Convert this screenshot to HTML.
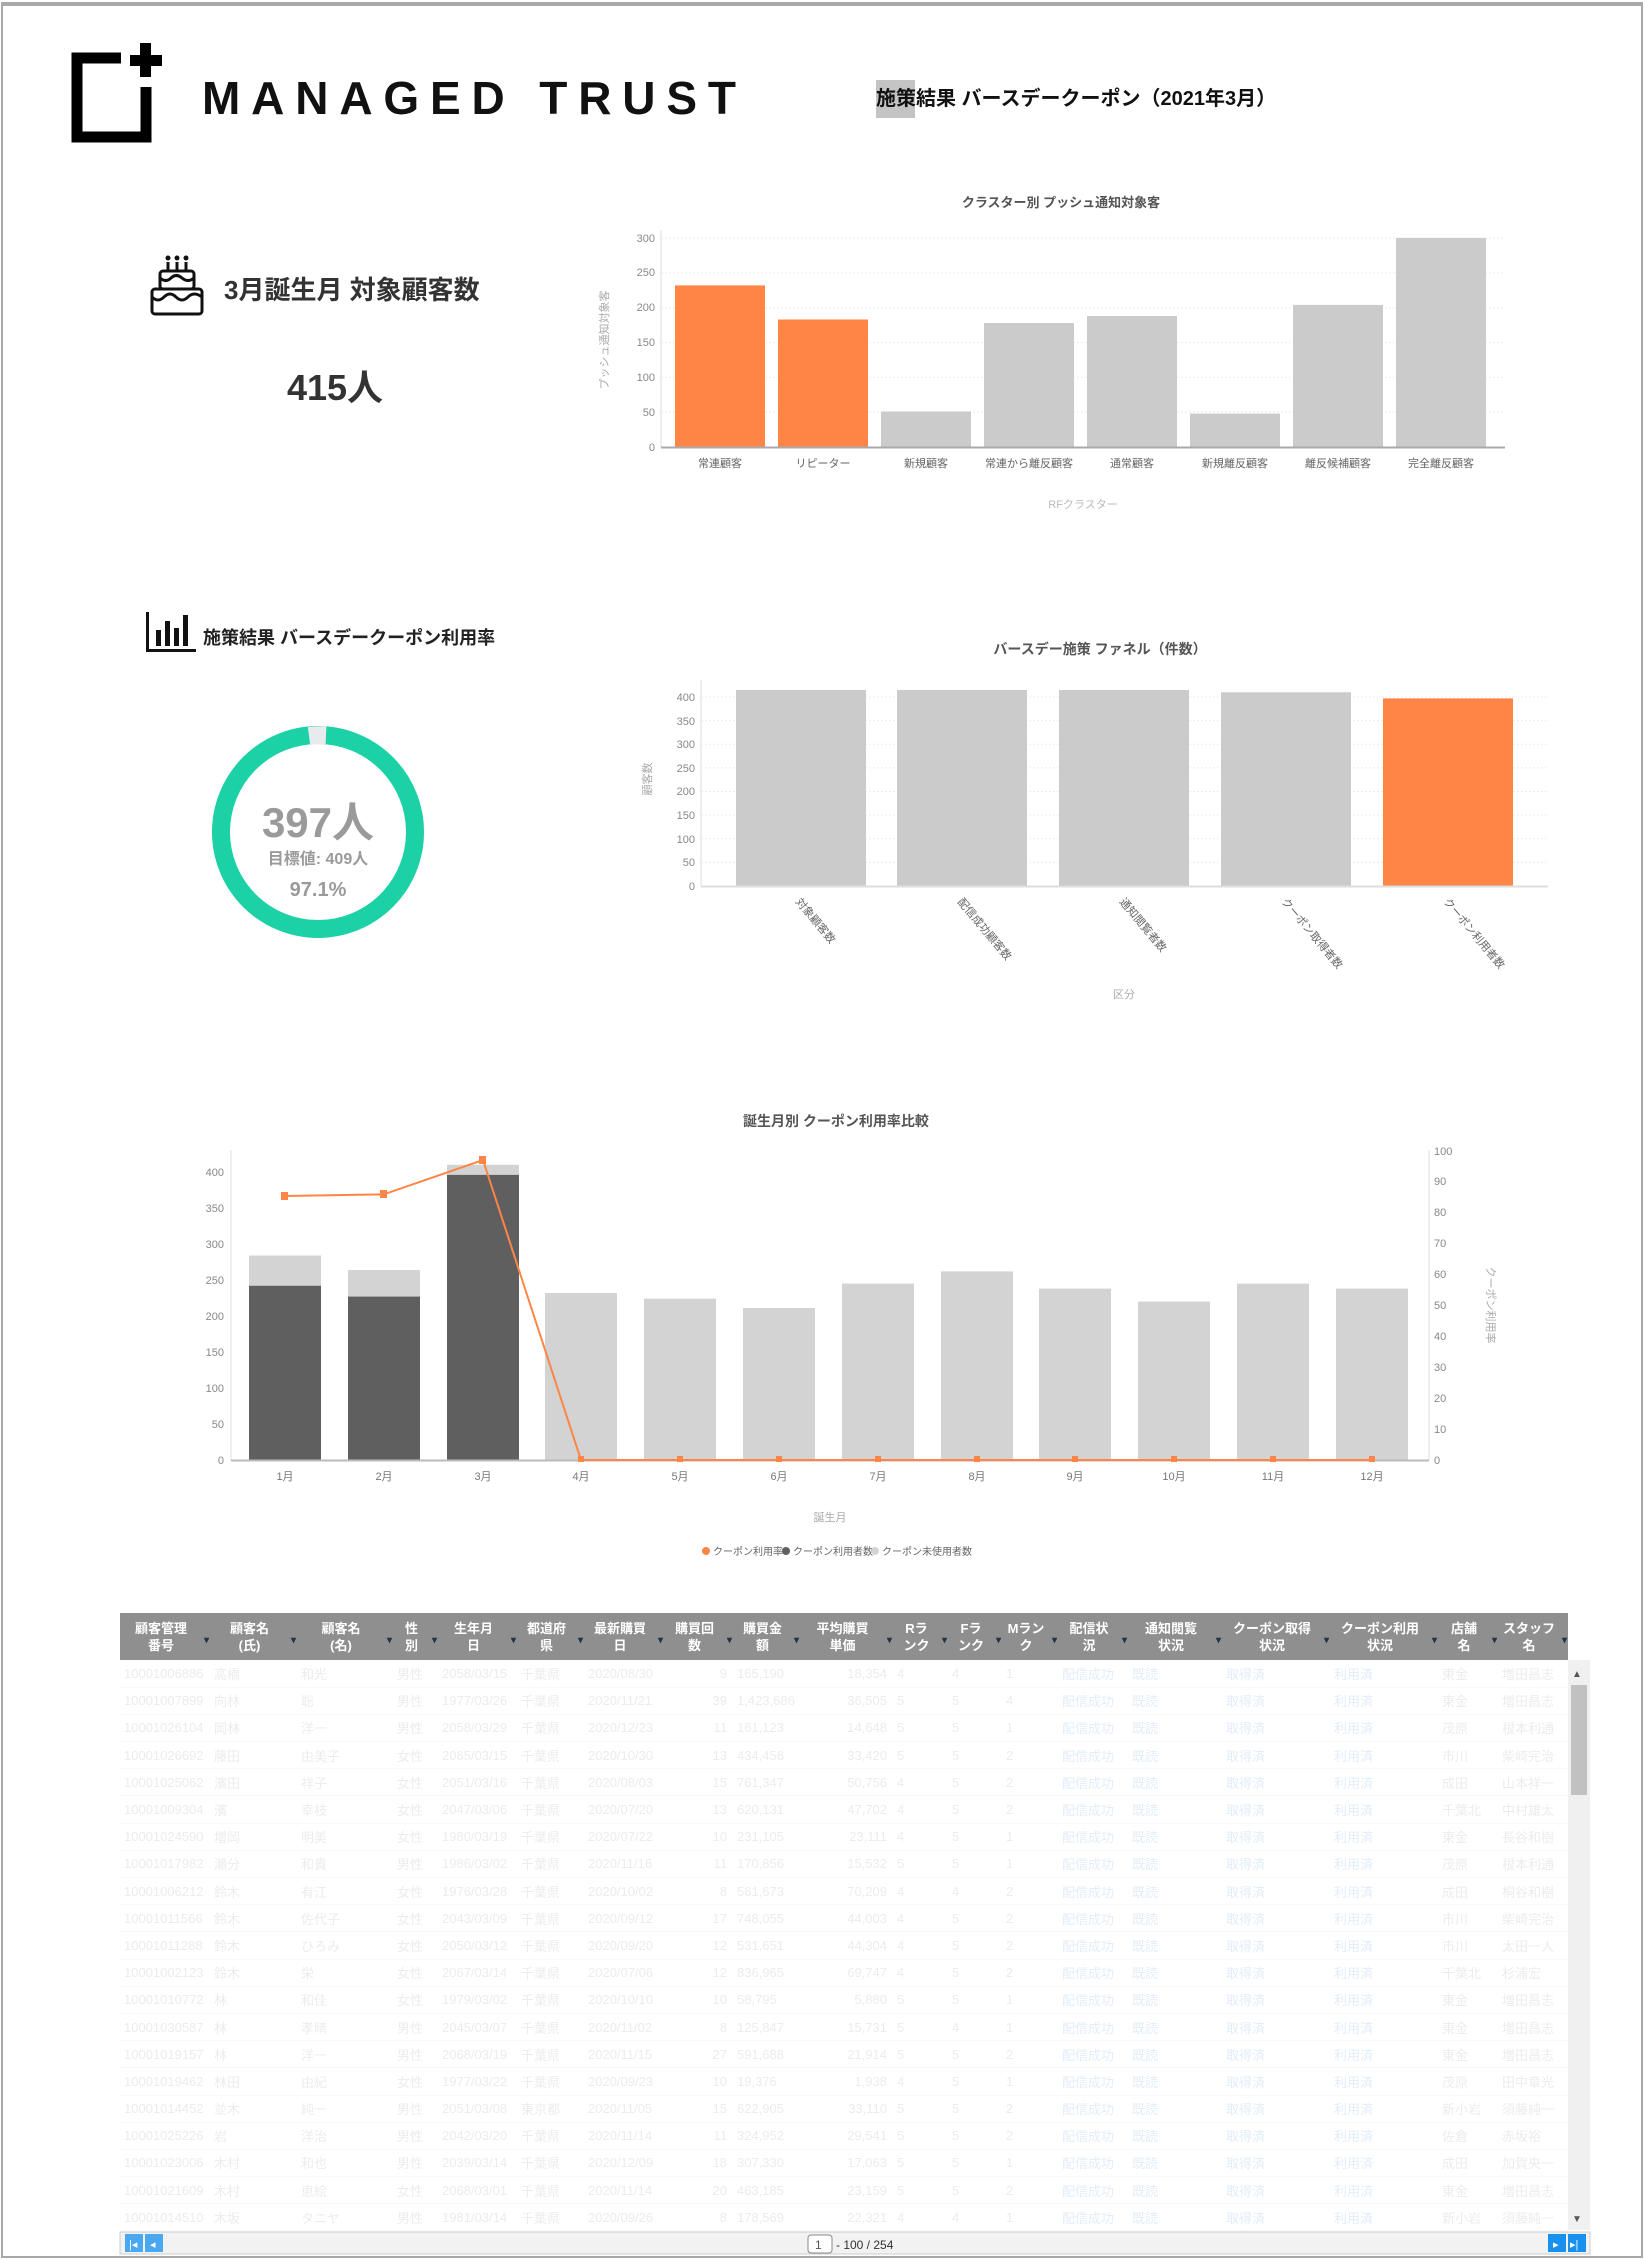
<!DOCTYPE html>
<html><head><meta charset="utf-8">
<style>
*{margin:0;padding:0;box-sizing:border-box}
body{width:1645px;height:2259px;background:#fff;position:relative;overflow:hidden;font-family:"Liberation Sans","Noto Sans CJK JP",sans-serif}
#frame{position:absolute;left:1px;top:2px;width:1642px;height:2256px;border:2px solid #a8a8a8;border-top:4px solid #a8a8a8}
svg{position:absolute;left:0;top:0}
#tbl{position:absolute;left:120px;top:1613px;width:1448px}
table{border-collapse:collapse;table-layout:fixed;width:1448px}
th{background:#8f8f8f;color:#fff;font-size:13px;font-weight:bold;height:47px;line-height:17px;text-align:center;position:relative;padding-right:8px}
th::after{content:"▾";position:absolute;right:1px;top:19px;color:#234;font-size:10px}
td{font-size:13px;color:#ececec;height:27.2px;border-bottom:1px solid #f8f8f8;white-space:nowrap;overflow:hidden;padding-left:4px}
td.b{color:#e2edf9}
td.r{text-align:right;padding-right:6px}
</style></head><body>
<div id="frame"></div>
<svg width="1645" height="2259" viewBox="0 0 1645 2259" font-family="Liberation Sans, Noto Sans CJK JP, sans-serif">
<!-- logo -->
<path d="M121 58 H77 V137 H146 V87" fill="none" stroke="#000" stroke-width="11"/>
<rect x="130" y="55" width="32" height="11" fill="#000"/><rect x="140" y="43" width="11" height="34" fill="#000"/>
<text x="202" y="114" font-size="46" font-weight="bold" textLength="534" lengthAdjust="spacing" fill="#111">MANAGED TRUST</text>
<rect x="876" y="80" width="39" height="38" fill="#c4c4c4"/>
<text x="876" y="105" font-size="20" font-weight="bold" fill="#111">施策結果 バースデークーポン（2021年3月）</text>
<!-- cake -->
<g fill="none" stroke="#111" stroke-width="3">
<rect x="152" y="289" width="50" height="25" rx="3"/><rect x="160" y="271" width="34" height="18" rx="3"/>
<path d="M152 297 q6 6 12 0 t12 0 t12 0 t14 0"/><path d="M160 278 q6 5 11 0 t11 0 t12 0"/>
<path d="M168 271v-9M177 271v-9M186 271v-9"/></g>
<g fill="#111"><circle cx="168" cy="258" r="2.5"/><circle cx="177" cy="258" r="2.5"/><circle cx="186" cy="258" r="2.5"/></g>
<text x="224" y="299" font-size="26" font-weight="bold" fill="#333">3月誕生月 対象顧客数</text>
<text x="335" y="400" font-size="36" font-weight="bold" fill="#333" text-anchor="middle">415人</text>
<!-- chart1 -->
<text x="1061" y="207" font-size="13" font-weight="bold" fill="#555" text-anchor="middle">クラスター別 プッシュ通知対象客</text>
<g stroke="#eee" stroke-dasharray="2,2"><path d="M661 412.2H1505M661 377.3H1505M661 342.5H1505M661 307.7H1505M661 272.8H1505M661 238H1505"/></g>
<g fill="#888" font-size="11" text-anchor="end"><text x="655" y="451">0</text><text x="655" y="416">50</text><text x="655" y="381">100</text><text x="655" y="346">150</text><text x="655" y="311">200</text><text x="655" y="276">250</text><text x="655" y="242">300</text></g>
<path d="M661 230V447" stroke="#ddd"/>
<rect x="675" y="285.4" width="90" height="161.6" fill="#ff8547"/>
<rect x="778" y="319.5" width="90" height="127.5" fill="#ff8547"/>
<rect x="881" y="411.5" width="90" height="35.5" fill="#cbcbcb"/>
<rect x="984" y="323" width="90" height="124" fill="#cbcbcb"/>
<rect x="1087" y="316" width="90" height="131" fill="#cbcbcb"/>
<rect x="1190" y="413.6" width="90" height="33.4" fill="#cbcbcb"/>
<rect x="1293" y="304.9" width="90" height="142.1" fill="#cbcbcb"/>
<rect x="1396" y="238" width="90" height="209" fill="#cbcbcb"/>
<path d="M661 447.5H1505" stroke="#aaa" stroke-width="2"/>
<g fill="#666" font-size="11" text-anchor="middle"><text x="720" y="467">常連顧客</text><text x="823" y="467">リピーター</text><text x="926" y="467">新規顧客</text><text x="1029" y="467">常連から離反顧客</text><text x="1132" y="467">通常顧客</text><text x="1235" y="467">新規離反顧客</text><text x="1338" y="467">離反候補顧客</text><text x="1441" y="467">完全離反顧客</text></g>
<text x="1083" y="508" font-size="11" fill="#bbb" text-anchor="middle">RFクラスター</text>
<text transform="translate(608,340) rotate(-90)" font-size="11" fill="#aaa" text-anchor="middle">プッシュ通知対象客</text>
<!-- section2 -->
<g fill="#111"><rect x="146" y="612" width="3" height="40"/><rect x="146" y="649" width="50" height="3"/><rect x="156" y="630" width="5" height="16"/><rect x="165" y="621" width="5" height="25"/><rect x="174" y="628" width="5" height="18"/><rect x="183" y="615" width="5" height="31"/></g>
<text x="203" y="644" font-size="18" font-weight="bold" fill="#222">施策結果 バースデークーポン利用率</text>
<circle cx="318" cy="832" r="97" fill="none" stroke="#1dd1a6" stroke-width="18"/>
<path d="M309 736 A97 97 0 0 1 326 735.3" fill="none" stroke="#e9eaee" stroke-width="18"/>
<text x="318" y="837" font-size="42" font-weight="bold" fill="#9a9a9a" text-anchor="middle">397人</text>
<text x="318" y="864" font-size="16" font-weight="bold" fill="#9a9a9a" text-anchor="middle">目標値: 409人</text>
<text x="318" y="896" font-size="20" font-weight="bold" fill="#9a9a9a" text-anchor="middle">97.1%</text>
<!-- chart2 -->
<text x="1100" y="654" font-size="14" font-weight="bold" fill="#555" text-anchor="middle">バースデー施策 ファネル（件数）</text>
<g stroke="#eee" stroke-dasharray="2,2"><path d="M701 862.4H1548M701 838.75H1548M701 815.1H1548M701 791.5H1548M701 767.9H1548M701 744.25H1548M701 720.6H1548M701 697H1548"/></g>
<g fill="#888" font-size="11" text-anchor="end"><text x="695" y="890">0</text><text x="695" y="866">50</text><text x="695" y="843">100</text><text x="695" y="819">150</text><text x="695" y="795">200</text><text x="695" y="772">250</text><text x="695" y="748">300</text><text x="695" y="725">350</text><text x="695" y="701">400</text></g>
<path d="M701 680V886" stroke="#ddd"/>
<rect x="736" y="690" width="130" height="196" fill="#cbcbcb"/>
<rect x="897" y="690" width="130" height="196" fill="#cbcbcb"/>
<rect x="1059" y="690" width="130" height="196" fill="#cbcbcb"/>
<rect x="1221" y="692.3" width="130" height="193.7" fill="#cbcbcb"/>
<rect x="1383" y="698.4" width="130" height="187.6" fill="#ff8547"/>
<path d="M701 886.5H1548" stroke="#ddd" stroke-width="2"/>
<g fill="#666" font-size="11"><text transform="translate(795,902) rotate(50)">対象顧客数</text><text transform="translate(957,902) rotate(50)">配信成功顧客数</text><text transform="translate(1119,902) rotate(50)">通知閲覧者数</text><text transform="translate(1281,902) rotate(50)">クーポン取得者数</text><text transform="translate(1443,902) rotate(50)">クーポン利用者数</text></g>
<text x="1124" y="998" font-size="11" fill="#aaa" text-anchor="middle">区分</text>
<text transform="translate(651,779) rotate(-90)" font-size="11" fill="#aaa" text-anchor="middle">顧客数</text>
<!-- chart3 -->
<text x="836" y="1126" font-size="14" font-weight="bold" fill="#555" text-anchor="middle">誕生月別 クーポン利用率比較</text>
<path d="M231 1150V1460M1429 1150V1460" stroke="#ddd"/>
<g fill="#888" font-size="11" text-anchor="end"><text x="224" y="1464">0</text><text x="224" y="1428">50</text><text x="224" y="1392">100</text><text x="224" y="1356">150</text><text x="224" y="1320">200</text><text x="224" y="1284">250</text><text x="224" y="1248">300</text><text x="224" y="1212">350</text><text x="224" y="1176">400</text></g>
<g fill="#888" font-size="11"><text x="1434" y="1464">0</text><text x="1434" y="1433">10</text><text x="1434" y="1402">20</text><text x="1434" y="1371">30</text><text x="1434" y="1340">40</text><text x="1434" y="1309">50</text><text x="1434" y="1278">60</text><text x="1434" y="1247">70</text><text x="1434" y="1216">80</text><text x="1434" y="1185">90</text><text x="1434" y="1155">100</text></g>
<g fill="#d3d3d3">
<rect x="249" y="1255.5" width="72" height="204.5"/><rect x="348" y="1270" width="72" height="190"/><rect x="447" y="1164.8" width="72" height="295.2"/>
<rect x="545" y="1293" width="72" height="167"/><rect x="644" y="1298.7" width="72" height="161.3"/><rect x="743" y="1308" width="72" height="152"/>
<rect x="842" y="1283.6" width="72" height="176.4"/><rect x="941" y="1271.4" width="72" height="188.6"/><rect x="1039" y="1288.6" width="72" height="171.4"/>
<rect x="1138" y="1301.6" width="72" height="158.4"/><rect x="1237" y="1283.6" width="72" height="176.4"/><rect x="1336" y="1288.6" width="72" height="171.4"/></g>
<g fill="#5f5f60"><rect x="249" y="1285.8" width="72" height="174.2"/><rect x="348" y="1296.6" width="72" height="163.4"/><rect x="447" y="1174.9" width="72" height="285.1"/></g>
<path d="M231 1460.5H1429" stroke="#bbb" stroke-width="2"/>
<polyline points="285,1196 384,1194.3 483,1160 581,1460 680,1460 779,1460 878,1460 977,1460 1075,1460 1174,1460 1273,1460 1372,1460" fill="none" stroke="#ff8547" stroke-width="2"/>
<g fill="#ff8547"><rect x="281" y="1192" width="7" height="8"/><rect x="380" y="1190" width="7" height="8"/><rect x="479" y="1156" width="7" height="8"/><rect x="578" y="1456" width="6" height="6"/><rect x="677" y="1456" width="6" height="6"/><rect x="776" y="1456" width="6" height="6"/><rect x="875" y="1456" width="6" height="6"/><rect x="974" y="1456" width="6" height="6"/><rect x="1072" y="1456" width="6" height="6"/><rect x="1171" y="1456" width="6" height="6"/><rect x="1270" y="1456" width="6" height="6"/><rect x="1369" y="1456" width="6" height="6"/></g>
<g fill="#777" font-size="11" text-anchor="middle"><text x="285" y="1480">1月</text><text x="384" y="1480">2月</text><text x="483" y="1480">3月</text><text x="581" y="1480">4月</text><text x="680" y="1480">5月</text><text x="779" y="1480">6月</text><text x="878" y="1480">7月</text><text x="977" y="1480">8月</text><text x="1075" y="1480">9月</text><text x="1174" y="1480">10月</text><text x="1273" y="1480">11月</text><text x="1372" y="1480">12月</text></g>
<text x="830" y="1521" font-size="11" fill="#aaa" text-anchor="middle">誕生月</text>
<text transform="translate(1487,1305) rotate(90)" font-size="11" fill="#aaa" text-anchor="middle">クーポン利用率</text>
<g font-size="10" fill="#666"><circle cx="706" cy="1551" r="4" fill="#ff8547"/><text x="713" y="1555">クーポン利用率</text><circle cx="786" cy="1551" r="4" fill="#5f5f60"/><text x="793" y="1555">クーポン利用者数</text><circle cx="875" cy="1551" r="4" fill="#d3d3d3"/><text x="882" y="1555">クーポン未使用者数</text></g>
<!-- scrollbar & footer -->
<rect x="1568" y="1660" width="22" height="570" fill="#f0f0f0"/>
<rect x="1571" y="1685" width="16" height="110" fill="#c1c1c1"/>
<text x="1572" y="1677" font-size="10" fill="#555">▲</text><text x="1572" y="2222" font-size="10" fill="#555">▼</text>
<rect x="120" y="2232" width="1470" height="22" fill="#f2f2f2" stroke="#ccc"/>
<rect x="125" y="2234" width="18" height="18" fill="#4aa8f0"/><rect x="145" y="2234" width="18" height="18" fill="#4aa8f0"/>
<rect x="1548" y="2234" width="18" height="18" fill="#1890ee"/><rect x="1568" y="2234" width="18" height="18" fill="#1890ee"/>
<g fill="#fff" font-size="11"><text x="129" y="2248">|◂</text><text x="150" y="2248">◂</text><text x="1553" y="2248">▸</text><text x="1570" y="2248">▸|</text></g>
<rect x="808" y="2235" width="24" height="18" rx="3" fill="#fff" stroke="#888"/>
<text x="815" y="2249" font-size="12" fill="#555">1</text>
<text x="836" y="2249" font-size="12" fill="#333">- 100 / 254</text>
</svg>
<div id="tbl"><table>
<colgroup><col style="width:90px"><col style="width:87px"><col style="width:96px"><col style="width:45px"><col style="width:79px"><col style="width:67px"><col style="width:80px"><col style="width:69px"><col style="width:67px"><col style="width:93px"><col style="width:55px"><col style="width:54px"><col style="width:56px"><col style="width:70px"><col style="width:94px"><col style="width:108px"><col style="width:108px"><col style="width:60px"><col style="width:70px"></colgroup>
<tr><th>顧客管理<br>番号</th><th>顧客名<br>(氏)</th><th>顧客名<br>(名)</th><th>性<br>別</th><th>生年月<br>日</th><th>都道府<br>県</th><th>最新購買<br>日</th><th>購買回<br>数</th><th>購買金<br>額</th><th>平均購買<br>単価</th><th>Rラ<br>ンク</th><th>Fラ<br>ンク</th><th>Mラン<br>ク</th><th>配信状<br>況</th><th>通知閲覧<br>状況</th><th>クーポン取得<br>状況</th><th>クーポン利用<br>状況</th><th>店舗<br>名</th><th>スタッフ<br>名</th></tr>
<tr><td>10001006886</td><td>高橋</td><td>和光</td><td>男性</td><td>2058/03/15</td><td>千葉県</td><td>2020/08/30</td><td class="r">9</td><td>165,190</td><td class="r">18,354</td><td>4</td><td>4</td><td>1</td><td class="b">配信成功</td><td class="b">既読</td><td class="b">取得済</td><td class="b">利用済</td><td>東金</td><td>増田昌志</td></tr>
<tr><td>10001007899</td><td>向林</td><td>聡</td><td>男性</td><td>1977/03/26</td><td>千葉県</td><td>2020/11/21</td><td class="r">39</td><td>1,423,686</td><td class="r">36,505</td><td>5</td><td>5</td><td>4</td><td class="b">配信成功</td><td class="b">既読</td><td class="b">取得済</td><td class="b">利用済</td><td>東金</td><td>増田昌志</td></tr>
<tr><td>10001026104</td><td>岡林</td><td>洋一</td><td>男性</td><td>2058/03/29</td><td>千葉県</td><td>2020/12/23</td><td class="r">11</td><td>161,123</td><td class="r">14,648</td><td>5</td><td>5</td><td>1</td><td class="b">配信成功</td><td class="b">既読</td><td class="b">取得済</td><td class="b">利用済</td><td>茂原</td><td>根本利通</td></tr>
<tr><td>10001026692</td><td>藤田</td><td>由美子</td><td>女性</td><td>2065/03/15</td><td>千葉県</td><td>2020/10/30</td><td class="r">13</td><td>434,456</td><td class="r">33,420</td><td>5</td><td>5</td><td>2</td><td class="b">配信成功</td><td class="b">既読</td><td class="b">取得済</td><td class="b">利用済</td><td>市川</td><td>柴崎完治</td></tr>
<tr><td>10001025062</td><td>濱田</td><td>祥子</td><td>女性</td><td>2051/03/16</td><td>千葉県</td><td>2020/08/03</td><td class="r">15</td><td>761,347</td><td class="r">50,756</td><td>4</td><td>5</td><td>2</td><td class="b">配信成功</td><td class="b">既読</td><td class="b">取得済</td><td class="b">利用済</td><td>成田</td><td>山本祥一</td></tr>
<tr><td>10001009304</td><td>濱</td><td>幸枝</td><td>女性</td><td>2047/03/06</td><td>千葉県</td><td>2020/07/20</td><td class="r">13</td><td>620,131</td><td class="r">47,702</td><td>4</td><td>5</td><td>2</td><td class="b">配信成功</td><td class="b">既読</td><td class="b">取得済</td><td class="b">利用済</td><td>千葉北</td><td>中村雄太</td></tr>
<tr><td>10001024590</td><td>増岡</td><td>明美</td><td>女性</td><td>1980/03/19</td><td>千葉県</td><td>2020/07/22</td><td class="r">10</td><td>231,105</td><td class="r">23,111</td><td>4</td><td>5</td><td>1</td><td class="b">配信成功</td><td class="b">既読</td><td class="b">取得済</td><td class="b">利用済</td><td>東金</td><td>長谷和樹</td></tr>
<tr><td>10001017982</td><td>瀬分</td><td>和貴</td><td>男性</td><td>1986/03/02</td><td>千葉県</td><td>2020/11/16</td><td class="r">11</td><td>170,856</td><td class="r">15,532</td><td>5</td><td>5</td><td>1</td><td class="b">配信成功</td><td class="b">既読</td><td class="b">取得済</td><td class="b">利用済</td><td>茂原</td><td>根本利通</td></tr>
<tr><td>10001006212</td><td>鈴木</td><td>有江</td><td>女性</td><td>1976/03/28</td><td>千葉県</td><td>2020/10/02</td><td class="r">8</td><td>561,673</td><td class="r">70,209</td><td>4</td><td>4</td><td>2</td><td class="b">配信成功</td><td class="b">既読</td><td class="b">取得済</td><td class="b">利用済</td><td>成田</td><td>桐谷和樹</td></tr>
<tr><td>10001011566</td><td>鈴木</td><td>佐代子</td><td>女性</td><td>2043/03/09</td><td>千葉県</td><td>2020/09/12</td><td class="r">17</td><td>748,055</td><td class="r">44,003</td><td>4</td><td>5</td><td>2</td><td class="b">配信成功</td><td class="b">既読</td><td class="b">取得済</td><td class="b">利用済</td><td>市川</td><td>柴崎完治</td></tr>
<tr><td>10001011288</td><td>鈴木</td><td>ひろみ</td><td>女性</td><td>2050/03/12</td><td>千葉県</td><td>2020/09/20</td><td class="r">12</td><td>531,651</td><td class="r">44,304</td><td>4</td><td>5</td><td>2</td><td class="b">配信成功</td><td class="b">既読</td><td class="b">取得済</td><td class="b">利用済</td><td>市川</td><td>太田一人</td></tr>
<tr><td>10001002123</td><td>鈴木</td><td>栄</td><td>女性</td><td>2067/03/14</td><td>千葉県</td><td>2020/07/06</td><td class="r">12</td><td>836,965</td><td class="r">69,747</td><td>4</td><td>5</td><td>2</td><td class="b">配信成功</td><td class="b">既読</td><td class="b">取得済</td><td class="b">利用済</td><td>千葉北</td><td>杉浦宏</td></tr>
<tr><td>10001010772</td><td>林</td><td>和佳</td><td>女性</td><td>1979/03/02</td><td>千葉県</td><td>2020/10/10</td><td class="r">10</td><td>58,795</td><td class="r">5,880</td><td>5</td><td>5</td><td>1</td><td class="b">配信成功</td><td class="b">既読</td><td class="b">取得済</td><td class="b">利用済</td><td>東金</td><td>増田昌志</td></tr>
<tr><td>10001030587</td><td>林</td><td>孝晴</td><td>男性</td><td>2045/03/07</td><td>千葉県</td><td>2020/11/02</td><td class="r">8</td><td>125,847</td><td class="r">15,731</td><td>5</td><td>4</td><td>1</td><td class="b">配信成功</td><td class="b">既読</td><td class="b">取得済</td><td class="b">利用済</td><td>東金</td><td>増田昌志</td></tr>
<tr><td>10001019157</td><td>林</td><td>洋一</td><td>男性</td><td>2068/03/19</td><td>千葉県</td><td>2020/11/15</td><td class="r">27</td><td>591,688</td><td class="r">21,914</td><td>5</td><td>5</td><td>2</td><td class="b">配信成功</td><td class="b">既読</td><td class="b">取得済</td><td class="b">利用済</td><td>東金</td><td>増田昌志</td></tr>
<tr><td>10001019462</td><td>林田</td><td>由紀</td><td>女性</td><td>1977/03/22</td><td>千葉県</td><td>2020/09/23</td><td class="r">10</td><td>19,376</td><td class="r">1,938</td><td>4</td><td>5</td><td>1</td><td class="b">配信成功</td><td class="b">既読</td><td class="b">取得済</td><td class="b">利用済</td><td>茂原</td><td>田中章光</td></tr>
<tr><td>10001014452</td><td>並木</td><td>純一</td><td>男性</td><td>2051/03/08</td><td>東京都</td><td>2020/11/05</td><td class="r">15</td><td>622,905</td><td class="r">33,110</td><td>5</td><td>5</td><td>2</td><td class="b">配信成功</td><td class="b">既読</td><td class="b">取得済</td><td class="b">利用済</td><td>新小岩</td><td>須藤純一</td></tr>
<tr><td>10001025226</td><td>岩</td><td>洋治</td><td>男性</td><td>2042/03/20</td><td>千葉県</td><td>2020/11/14</td><td class="r">11</td><td>324,952</td><td class="r">29,541</td><td>5</td><td>5</td><td>2</td><td class="b">配信成功</td><td class="b">既読</td><td class="b">取得済</td><td class="b">利用済</td><td>佐倉</td><td>赤坂裕</td></tr>
<tr><td>10001023006</td><td>木村</td><td>和也</td><td>男性</td><td>2039/03/14</td><td>千葉県</td><td>2020/12/09</td><td class="r">18</td><td>307,330</td><td class="r">17,063</td><td>5</td><td>5</td><td>1</td><td class="b">配信成功</td><td class="b">既読</td><td class="b">取得済</td><td class="b">利用済</td><td>成田</td><td>加賀央一</td></tr>
<tr><td>10001021609</td><td>木村</td><td>恵絵</td><td>女性</td><td>2068/03/01</td><td>千葉県</td><td>2020/11/14</td><td class="r">20</td><td>463,185</td><td class="r">23,159</td><td>5</td><td>5</td><td>2</td><td class="b">配信成功</td><td class="b">既読</td><td class="b">取得済</td><td class="b">利用済</td><td>東金</td><td>増田昌志</td></tr>
<tr><td>10001014510</td><td>木坂</td><td>タニヤ</td><td>男性</td><td>1981/03/14</td><td>千葉県</td><td>2020/09/26</td><td class="r">8</td><td>178,569</td><td class="r">22,321</td><td>4</td><td>4</td><td>1</td><td class="b">配信成功</td><td class="b">既読</td><td class="b">取得済</td><td class="b">利用済</td><td>新小岩</td><td>須藤純一</td></tr>
</table></div>
</body></html>
